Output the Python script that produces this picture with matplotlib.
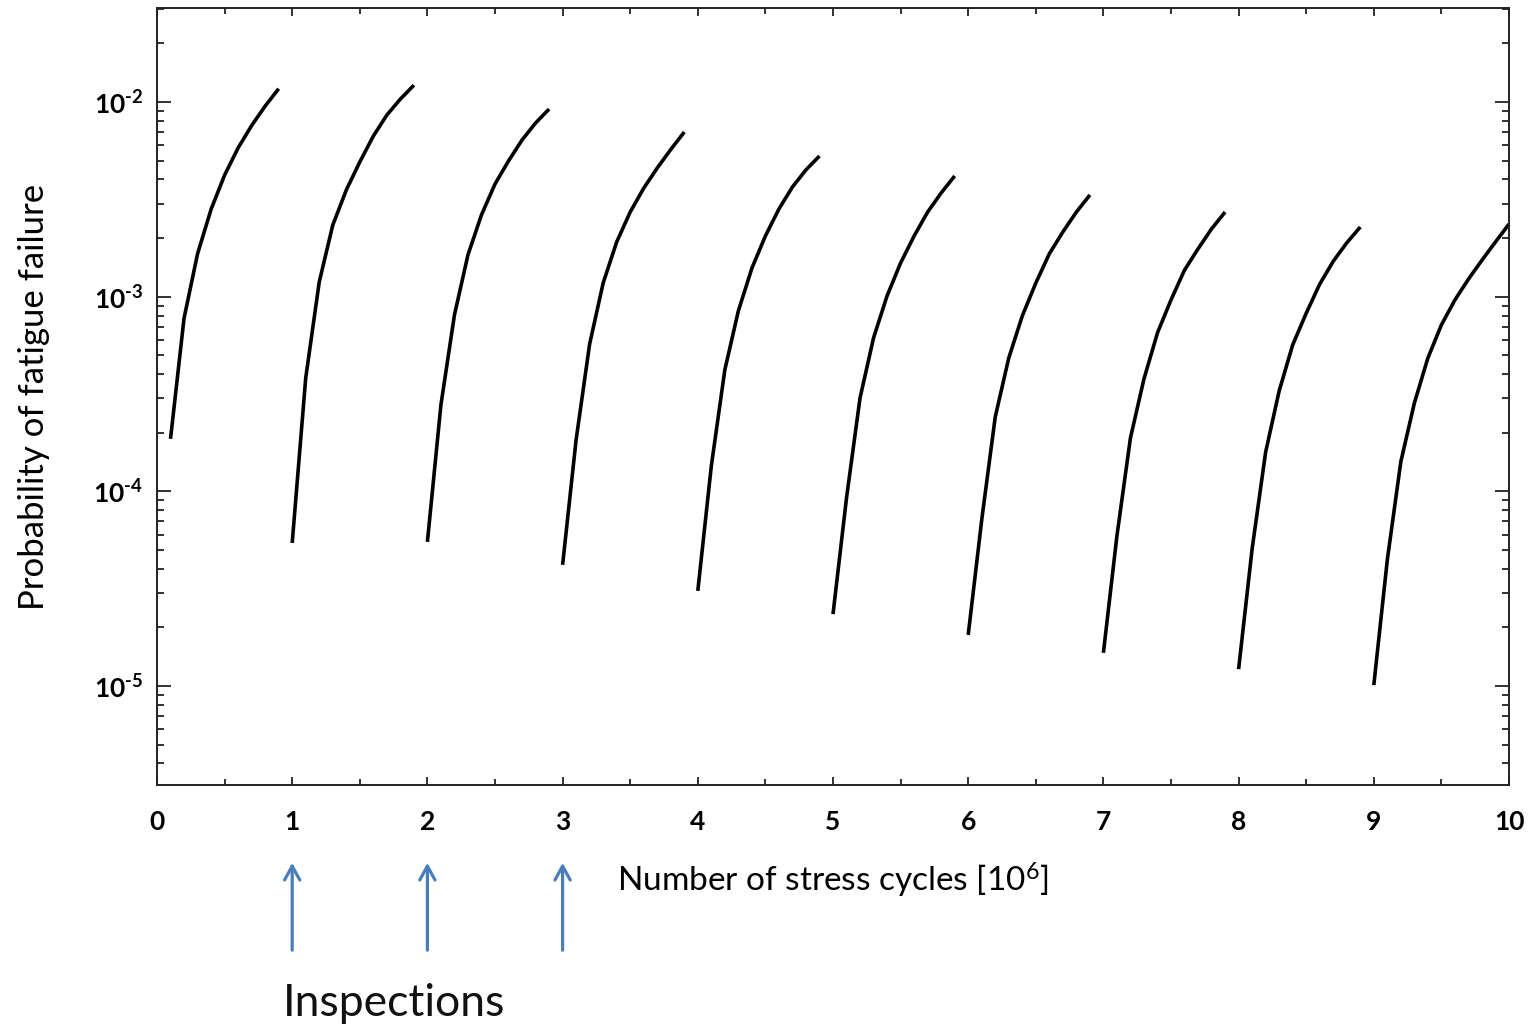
import numpy as np
import matplotlib
matplotlib.use("Agg")
import matplotlib.pyplot as plt
from matplotlib.ticker import LogLocator, NullFormatter, MultipleLocator, FixedLocator, FixedFormatter

# Probability of fatigue failure between inspections (stress cycles in units of 10^6)
segment_start = [0.1, 1.0, 2.0, 3.0, 4.0, 5.0, 6.0, 7.0, 8.0, 9.0]
sample_step = 0.1

p_interval_0 = [1.86e-4, 7.74e-4, 1.66e-3, 2.81e-3, 4.21e-3, 5.81e-3, 7.57e-3, 9.53e-3, 1.17e-2]
p_interval_1 = [5.43e-5, 3.82e-4, 1.19e-3, 2.33e-3, 3.53e-3, 4.92e-3, 6.68e-3, 8.57e-3, 1.035e-2, 1.22e-2]
p_interval_2 = [5.50e-5, 2.78e-4, 8.05e-4, 1.64e-3, 2.63e-3, 3.79e-3, 4.98e-3, 6.38e-3, 7.80e-3, 9.20e-3]
p_interval_3 = [4.19e-5, 1.84e-4, 5.71e-4, 1.175e-3, 1.91e-3, 2.72e-3, 3.61e-3, 4.58e-3, 5.70e-3, 7.01e-3]
p_interval_4 = [3.08e-5, 1.35e-4, 4.21e-4, 8.45e-4, 1.40e-3, 2.05e-3, 2.82e-3, 3.66e-3, 4.48e-3, 5.28e-3]
p_interval_5 = [2.34e-5, 9.25e-5, 3.02e-4, 6.14e-4, 1.01e-3, 1.49e-3, 2.05e-3, 2.72e-3, 3.41e-3, 4.17e-3]
p_interval_6 = [1.83e-5, 7.13e-5, 2.41e-4, 4.84e-4, 7.96e-4, 1.175e-3, 1.66e-3, 2.15e-3, 2.72e-3, 3.33e-3]
p_interval_7 = [1.48e-5, 5.90e-5, 1.88e-4, 3.78e-4, 6.52e-4, 9.62e-4, 1.37e-3, 1.76e-3, 2.23e-3, 2.72e-3]
p_interval_8 = [1.22e-5, 5.06e-5, 1.59e-4, 3.28e-4, 5.65e-4, 8.22e-4, 1.16e-3, 1.52e-3, 1.89e-3, 2.28e-3]
p_interval_9 = [1.01e-5, 4.45e-5, 1.42e-4, 2.84e-4, 4.84e-4, 7.16e-4, 9.62e-4, 1.23e-3, 1.54e-3, 1.91e-3, 2.36e-3]

intervals = [p_interval_0, p_interval_1, p_interval_2, p_interval_3, p_interval_4,
             p_interval_5, p_interval_6, p_interval_7, p_interval_8, p_interval_9]

x_ticks = [0, 1, 2, 3, 4, 5, 6, 7, 8, 9, 10]
y_ticks = [1e-5, 1e-4, 1e-3, 1e-2]
y_tick_labels = [r"10$^{\text{-}5}$", r"10$^{\text{-}4}$", r"10$^{\text{-}3}$", r"10$^{\text{-}2}$"]
inspection_marks = [1, 2, 3]

plt.rcParams["font.family"] = ["Lato", "DejaVu Sans"]
plt.rcParams["mathtext.fontset"] = "custom"
plt.rcParams["mathtext.rm"] = "Lato:bold"
plt.rcParams["mathtext.it"] = "Lato:bold:italic"
plt.rcParams["mathtext.bf"] = "Lato:bold"

fig = plt.figure(figsize=(15.29, 10.28), dpi=100)
ax = fig.add_axes([157 / 1529, 1 - 785 / 1028, 1352 / 1529, 777 / 1028])

for start, p in zip(segment_start, intervals):
    x = start + sample_step * np.arange(len(p))
    ax.plot(x, p, color="black", lw=2.6, solid_capstyle="butt",
            solid_joinstyle="round", clip_on=False)

ax.set_yscale("log")
ax.set_xlim(0, 10)
ax.set_ylim(3.1e-6, 3.04e-2)

ax.xaxis.set_major_locator(FixedLocator(x_ticks))
ax.xaxis.set_major_formatter(FixedFormatter([str(t) for t in x_ticks]))
ax.xaxis.set_minor_locator(MultipleLocator(0.5))
ax.yaxis.set_major_locator(FixedLocator(y_ticks))
ax.yaxis.set_major_formatter(FixedFormatter(y_tick_labels))
ax.yaxis.set_minor_locator(LogLocator(base=10, subs=np.arange(2, 10)))
ax.yaxis.set_minor_formatter(NullFormatter())

for s in ax.spines.values():
    s.set_linewidth(1.4)
    s.set_color("#222222")

ax.tick_params(axis="both", which="both", direction="in", top=True, right=True,
               color="#222222", width=1.3)
ax.tick_params(axis="x", which="major", length=6, pad=18, labelsize=19)
ax.tick_params(axis="x", which="minor", length=4)
ax.tick_params(axis="y", which="major", length=10, pad=10, labelsize=19)
ax.tick_params(axis="y", which="minor", length=5)
for lab in ax.get_xticklabels() + ax.get_yticklabels():
    lab.set_fontweight("bold")

ax.set_xlabel(r"Number of stress cycles [10$^{\mathregular{6}}$]", fontsize=24)
ax.xaxis.set_label_coords(0.5, (785 - 880) / 777)
ax.xaxis.label.set_va("center")
ax.set_ylabel("Probability of fatigue failure", fontsize=25)
ax.yaxis.set_label_coords((34 - 157) / 1352, 0.5)
ax.yaxis.label.set_va("center")

for xm in inspection_marks:
    ax.annotate("", xy=(xm, (785 - 860) / 777), xytext=(xm, (785 - 953) / 777),
                xycoords=("data", "axes fraction"), textcoords=("data", "axes fraction"),
                annotation_clip=False,
                arrowprops=dict(arrowstyle="->,head_length=1.0,head_width=0.55",
                                color="#4A7EBB", lw=2.3))

fig.text(283 / 1529, 1 - 1003 / 1028, "Inspections", fontsize=32, va="center", ha="left",
         color="#111111")

fig.savefig("out.png", dpi=100, facecolor="white")
